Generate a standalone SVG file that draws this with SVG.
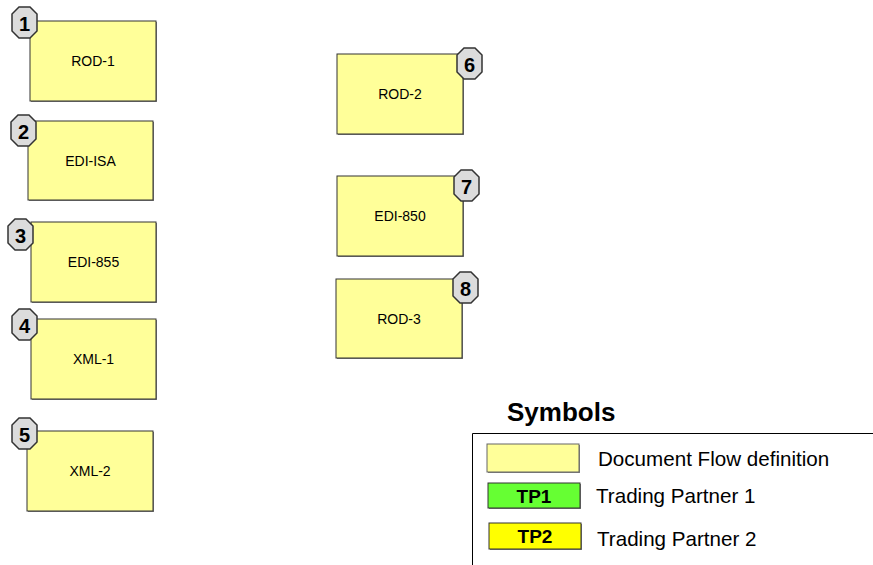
<svg xmlns="http://www.w3.org/2000/svg" width="873" height="565" viewBox="0 0 873 565">
  <style>
    .doc { fill: #ffff99; stroke: #333333; stroke-width: 1; }
    .shadow { fill: #808080; }
    .label { font-family: "Liberation Sans", Arial, sans-serif; font-size: 14px; fill: #000; text-anchor: middle; }
    .badge { fill: #dcdcdc; stroke: #333333; stroke-width: 1.5; }
    .num { font-family: "Liberation Sans", Arial, sans-serif; font-size: 20px; font-weight: bold; fill: #000; text-anchor: middle; }
    .legend-text { font-family: "Liberation Sans", Arial, sans-serif; font-size: 20.6px; fill: #000; }
    .tp { font-family: "Liberation Sans", Arial, sans-serif; font-size: 19px; font-weight: bold; fill: #000; text-anchor: middle; }
  </style>
  <defs>
    <!-- octagonal number badge, 25 x 31 -->
    <polygon id="oct" points="7,0 18,0 25,7 25,24 18,31 7,31 0,24 0,7"/>
  </defs>

  <rect width="873" height="565" fill="#ffffff"/>

  <g id="connectors"/>

  <g id="node-1">
    <rect class="shadow" x="31" y="22" width="126" height="80"/>
    <rect class="doc" x="30" y="21" width="126" height="80"/>
    <text class="label" x="93" y="66">ROD-1</text>
    <use href="#oct" class="badge" x="12" y="7"/>
    <text class="num" x="24.5" y="30.5">1</text>
  </g>

  <g id="node-2">
    <rect class="shadow" x="29" y="122" width="125" height="79"/>
    <rect class="doc" x="28" y="121" width="125" height="79"/>
    <text class="label" x="90.5" y="166">EDI-ISA</text>
    <use href="#oct" class="badge" x="11" y="115"/>
    <text class="num" x="23.5" y="138.5">2</text>
  </g>

  <g id="node-3">
    <rect class="shadow" x="32" y="223" width="125" height="80"/>
    <rect class="doc" x="31" y="222" width="125" height="80"/>
    <text class="label" x="93.5" y="267">EDI-855</text>
    <use href="#oct" class="badge" x="8" y="219"/>
    <text class="num" x="20.5" y="242.5">3</text>
  </g>

  <g id="node-4">
    <rect class="shadow" x="32" y="320" width="125" height="80"/>
    <rect class="doc" x="31" y="319" width="125" height="80"/>
    <text class="label" x="93.5" y="364">XML-1</text>
    <use href="#oct" class="badge" x="12" y="309"/>
    <text class="num" x="24.5" y="332.5">4</text>
  </g>

  <g id="node-5">
    <rect class="shadow" x="28" y="432" width="126" height="80"/>
    <rect class="doc" x="27" y="431" width="126" height="80"/>
    <text class="label" x="90" y="476">XML-2</text>
    <use href="#oct" class="badge" x="12" y="418"/>
    <text class="num" x="24.5" y="441.5">5</text>
  </g>

  <g id="node-6">
    <rect class="shadow" x="338" y="55" width="126" height="80"/>
    <rect class="doc" x="337" y="54" width="126" height="80"/>
    <text class="label" x="400" y="99">ROD-2</text>
    <use href="#oct" class="badge" x="457" y="48"/>
    <text class="num" x="469.5" y="71.5">6</text>
  </g>

  <g id="node-7">
    <rect class="shadow" x="338" y="177" width="126" height="80"/>
    <rect class="doc" x="337" y="176" width="126" height="80"/>
    <text class="label" x="400" y="221">EDI-850</text>
    <use href="#oct" class="badge" x="454" y="170"/>
    <text class="num" x="466.5" y="193.5">7</text>
  </g>

  <g id="node-8">
    <rect class="shadow" x="337" y="280" width="126" height="79"/>
    <rect class="doc" x="336" y="279" width="126" height="79"/>
    <text class="label" x="399" y="324">ROD-3</text>
    <use href="#oct" class="badge" x="453" y="272"/>
    <text class="num" x="465.5" y="295.5">8</text>
  </g>

  <g id="legend">
    <text x="507" y="421" font-family="Liberation Sans, Arial, sans-serif" font-size="26" font-weight="bold" fill="#000">Symbols</text>
    <path d="M472.5,565 V433.5 H873" fill="none" stroke="#000" stroke-width="1"/>

    <rect class="shadow" x="488" y="445" width="92" height="28"/>
    <rect x="487" y="444" width="92" height="28" fill="#ffff99" stroke="#666666" stroke-width="1"/>
    <text class="legend-text" x="598" y="466">Document Flow definition</text>

    <rect class="shadow" x="489" y="484" width="92" height="25"/>
    <rect x="488" y="483" width="92" height="25" fill="#66ff33" stroke="#333333" stroke-width="1"/>
    <text class="tp" x="534" y="503">TP1</text>
    <text class="legend-text" x="596" y="503">Trading Partner 1</text>

    <rect class="shadow" x="490" y="524" width="92" height="26"/>
    <rect x="489" y="523" width="92" height="26" fill="#ffff00" stroke="#333333" stroke-width="1"/>
    <text class="tp" x="535" y="543">TP2</text>
    <text class="legend-text" x="597" y="546">Trading Partner 2</text>
  </g>
</svg>
